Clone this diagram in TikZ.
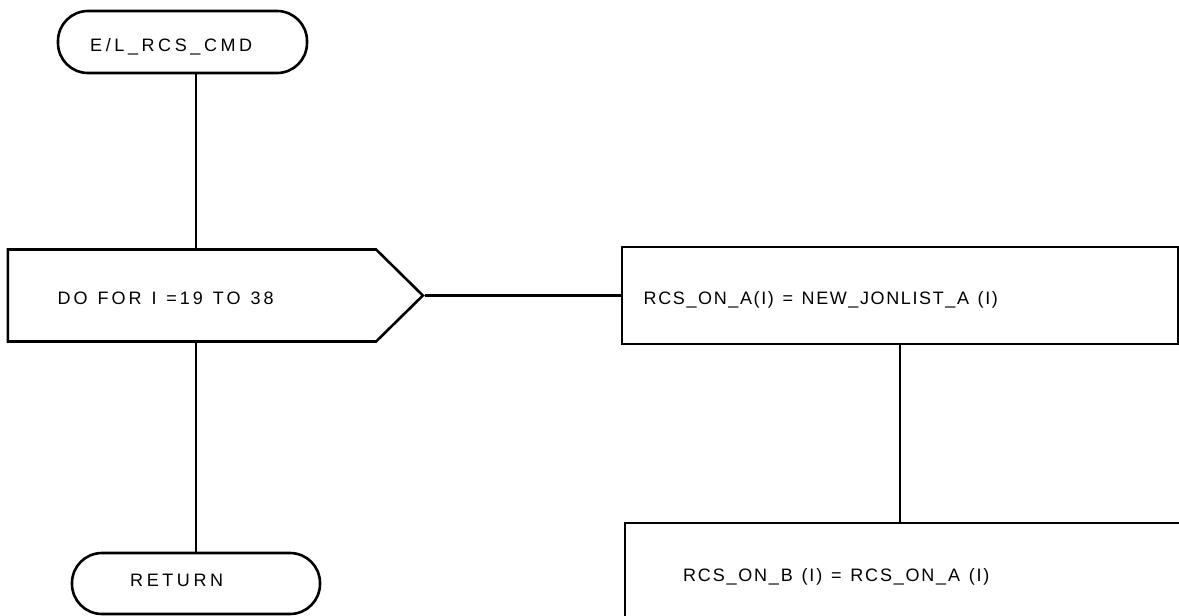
\documentclass[tikz,border=0pt]{standalone}
\usepackage{fontspec}
\setmainfont{Liberation Sans}
\newfontfamily\fwide[LetterSpace=20]{Liberation Sans}
\newfontfamily\fmid[LetterSpace=16.5,WordSpace=1.25]{Liberation Sans}
\newfontfamily\fnarrowA[LetterSpace=9,WordSpace=1.3]{Liberation Sans}
\newfontfamily\fnarrowB[LetterSpace=10,WordSpace=1.3]{Liberation Sans}
\usetikzlibrary{shapes.symbols}
\tikzset{
  shp/.style={draw=black, line width=2.6pt, inner sep=0pt},
  term/.style={shp, rectangle, rounded corners=30pt},
  procbox/.style={shp, rectangle},
  loopbox/.style={shp, signal, signal to=east, signal pointer angle=89},
  txt/.style={anchor=base west, inner sep=0pt},
  conn/.style={line width=2.6pt, black}
}
\begin{document}
\begin{tikzpicture}[x=1pt,y=-1pt]
\clip (0,0) rectangle (1179,616);
\fill[white] (0,0) rectangle (1179,616);
% shapes
\node[term, minimum width=249pt, minimum height=62pt] (start) at (182.5,42) {};
\node[loopbox, minimum width=415pt, minimum height=92pt] (loop) at (192,295.5) {};
\node[term, minimum width=248pt, minimum height=61pt] (ret) at (196,583.5) {};
\node[procbox, minimum width=556pt, minimum height=97pt] (boxA) at (900,295.5) {};
\node[procbox, minimum width=575pt, minimum height=97pt] (boxB) at (912.5,571.5) {};
% texts
\node[txt, font=\fwide\fontsize{18pt}{20pt}\selectfont] (tstart) at (90,51.7) {E/L\_RCS\_CMD};
\node[txt, font=\fmid\fontsize{18pt}{20pt}\selectfont] (tloop) at (57.5,304.5) {DO FOR I =19 TO 38};
\node[txt, font=\fwide\fontsize{18pt}{20pt}\selectfont] (tret) at (130,586.7) {RETURN};
\node[txt, font=\fnarrowA\fontsize{18pt}{20pt}\selectfont] (tA) at (643.5,304.5) {RCS\_ON\_A(I) = NEW\_JONLIST\_A (I)};
\node[txt, font=\fnarrowB\fontsize{18pt}{20pt}\selectfont] (tB) at (683,581.5) {RCS\_ON\_B (I) = RCS\_ON\_A (I)};
% connectors
\draw[conn] (ret.north |- start.south) -- (ret.north |- loop.north);
\draw[conn] (ret.north |- loop.south) -- (ret.north);
\draw[conn] (loop.east) -- (boxA.west);
\draw[conn] (boxA.south) -- (boxA.south |- boxB.north);
\end{tikzpicture}
\end{document}
